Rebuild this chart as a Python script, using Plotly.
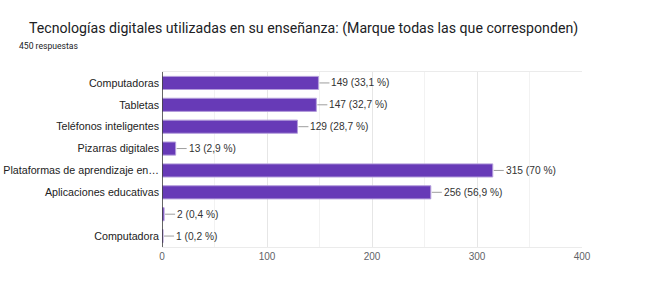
import plotly.graph_objects as go

categories = ["Computadoras", "Tabletas", "Teléfonos inteligentes", "Pizarras digitales",
              "Plataformas de aprendizaje en…", "Aplicaciones educativas", " ", "Computadora"]
values = [149, 147, 129, 13, 315, 256, 2, 1]
percents = ["33,1", "32,7", "28,7", "2,9", "70", "56,9", "0,4", "0,2"]
x_ticks = [0, 100, 200, 300, 400]

W, H = 647, 298
ml, mr, mt, mb = 162, 65, 72, 51
pw, ph = W - ml - mr, H - mt - mb


def px_x(x):
    return (x - ml) / pw


def px_y(y):
    return 1 - (y - mt) / ph


fig = go.Figure()
fig.add_trace(go.Bar(
    x=values, y=categories, orientation="h",
    marker=dict(color="#673ab7", line=dict(color="#b39ddb", width=1)),
    width=0.6, hoverinfo="skip",
))

annotations = []
for c, v, p in zip(categories, values, percents):
    annotations.append(dict(
        x=v, y=c, xref="x", yref="y", text=f"{v} ({p} %)",
        showarrow=True, ax=11, ay=0, xanchor="left", arrowhead=0,
        arrowwidth=1, arrowcolor="#9e9e9e", standoff=1,
        font=dict(family="Arial, Liberation Sans", size=10.2, color="#333333"),
    ))
annotations.append(dict(
    x=px_x(27), y=px_y(28), xref="paper", yref="paper", xanchor="left", yanchor="middle",
    text="Tecnologías digitales utilizadas en su enseñanza: (Marque todas las que corresponden)",
    showarrow=False, font=dict(family="Roboto", size=14.15, color="#202124"),
))
annotations.append(dict(
    x=px_x(17), y=px_y(46), xref="paper", yref="paper", xanchor="left", yanchor="middle",
    text="450 respuestas", showarrow=False,
    font=dict(family="Roboto", size=8.6, color="#202124"),
))

fig.update_layout(
    width=W, height=H,
    margin=dict(l=ml, r=mr, t=mt, b=mb, autoexpand=False),
    plot_bgcolor="white", paper_bgcolor="white",
    showlegend=False,
    annotations=annotations,
    font=dict(family="Arial, Liberation Sans", size=11, color="#333333"),
    xaxis=dict(
        range=[0, 400], tickvals=x_ticks, showgrid=True, gridcolor="#e6e6e6",
        minor=dict(dtick=50, showgrid=True, gridcolor="#f2f2f2"),
        zeroline=False, showline=True, linecolor="#ebebeb", mirror=True,
        tickfont=dict(size=10, color="#5f6368"), ticklabelstandoff=0,
        fixedrange=True, automargin=False,
    ),
    yaxis=dict(
        autorange="reversed", showgrid=False, zeroline=False,
        tickfont=dict(size=10.7, color="#222222"), ticklabelstandoff=2,
        fixedrange=True, automargin=False,
    ),
    shapes=[dict(type="line", xref="x", yref="paper", x0=0, x1=0, y0=0, y1=1,
                 line=dict(color="#333333", width=1.5))],
)

fig.write_html("out.html", config={"displayModeBar": False},
               post_script="document.body.style.margin='0';")
